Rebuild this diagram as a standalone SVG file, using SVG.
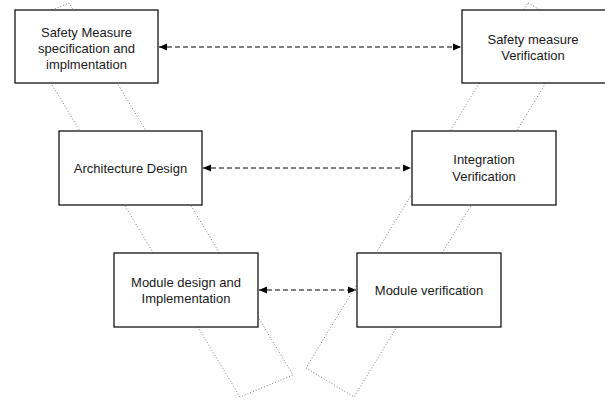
<svg xmlns="http://www.w3.org/2000/svg" width="605" height="400" viewBox="0 0 605 400">
  <defs>
    <style>
      .band { fill: none; stroke: #808080; stroke-width: 1; stroke-dasharray: 1 2; }
      .box { fill: #ffffff; stroke: #000000; stroke-width: 1.2; }
      .lbl { font-family: "Liberation Sans", Arial, sans-serif; font-size: 13px; fill: #1a1a1a; text-anchor: middle; dominant-baseline: central; }
      .link { stroke: #000000; stroke-width: 1; stroke-dasharray: 5 3; fill: none; }
    </style>
    <marker id="ah" viewBox="0 0 8 8" refX="8" refY="4" markerWidth="8" markerHeight="8" markerUnits="userSpaceOnUse" orient="auto-start-reverse">
      <path d="M0,0.5 L8,4 L0,7.5 z" fill="#000000"/>
    </marker>
  </defs>
  <rect width="605" height="400" fill="#ffffff"/>

  <!-- V-model descending / ascending bands -->
  <g id="bands">
    <polygon class="band" points="16,25 69,3 293,375 240,397"/>
    <polygon class="band" points="528,3 577,32 354,397 306,368"/>
  </g>

  <!-- bidirectional trace links -->
  <g id="connectors">
    <line class="link" x1="159" y1="47" x2="461" y2="47" marker-start="url(#ah)" marker-end="url(#ah)"/>
    <line class="link" x1="203" y1="168" x2="411" y2="168" marker-start="url(#ah)" marker-end="url(#ah)"/>
    <line class="link" x1="259" y1="290" x2="356" y2="290" marker-start="url(#ah)" marker-end="url(#ah)"/>
  </g>

  <g id="safety-spec">
    <rect class="box" x="15" y="10" width="143" height="73"/>
    <text class="lbl" x="86.5" y="32">Safety Measure</text>
    <text class="lbl" x="86.5" y="48">specification and</text>
    <text class="lbl" x="86.5" y="64">implmentation</text>
  </g>

  <g id="safety-verif">
    <rect class="box" x="462" y="10" width="145" height="73"/>
    <text class="lbl" x="533" y="39">Safety measure</text>
    <text class="lbl" x="533" y="55">Verification</text>
  </g>

  <g id="arch-design">
    <rect class="box" x="59" y="131" width="143" height="74"/>
    <text class="lbl" x="130.5" y="168">Architecture Design</text>
  </g>

  <g id="integ-verif">
    <rect class="box" x="412" y="131" width="144" height="74"/>
    <text class="lbl" x="484" y="159">Integration</text>
    <text class="lbl" x="484" y="176">Verification</text>
  </g>

  <g id="module-design">
    <rect class="box" x="114" y="253" width="144" height="74"/>
    <text class="lbl" x="186" y="282">Module design and</text>
    <text class="lbl" x="186" y="298">Implementation</text>
  </g>

  <g id="module-verif">
    <rect class="box" x="357" y="253" width="144" height="74"/>
    <text class="lbl" x="429" y="290">Module verification</text>
  </g>
</svg>
